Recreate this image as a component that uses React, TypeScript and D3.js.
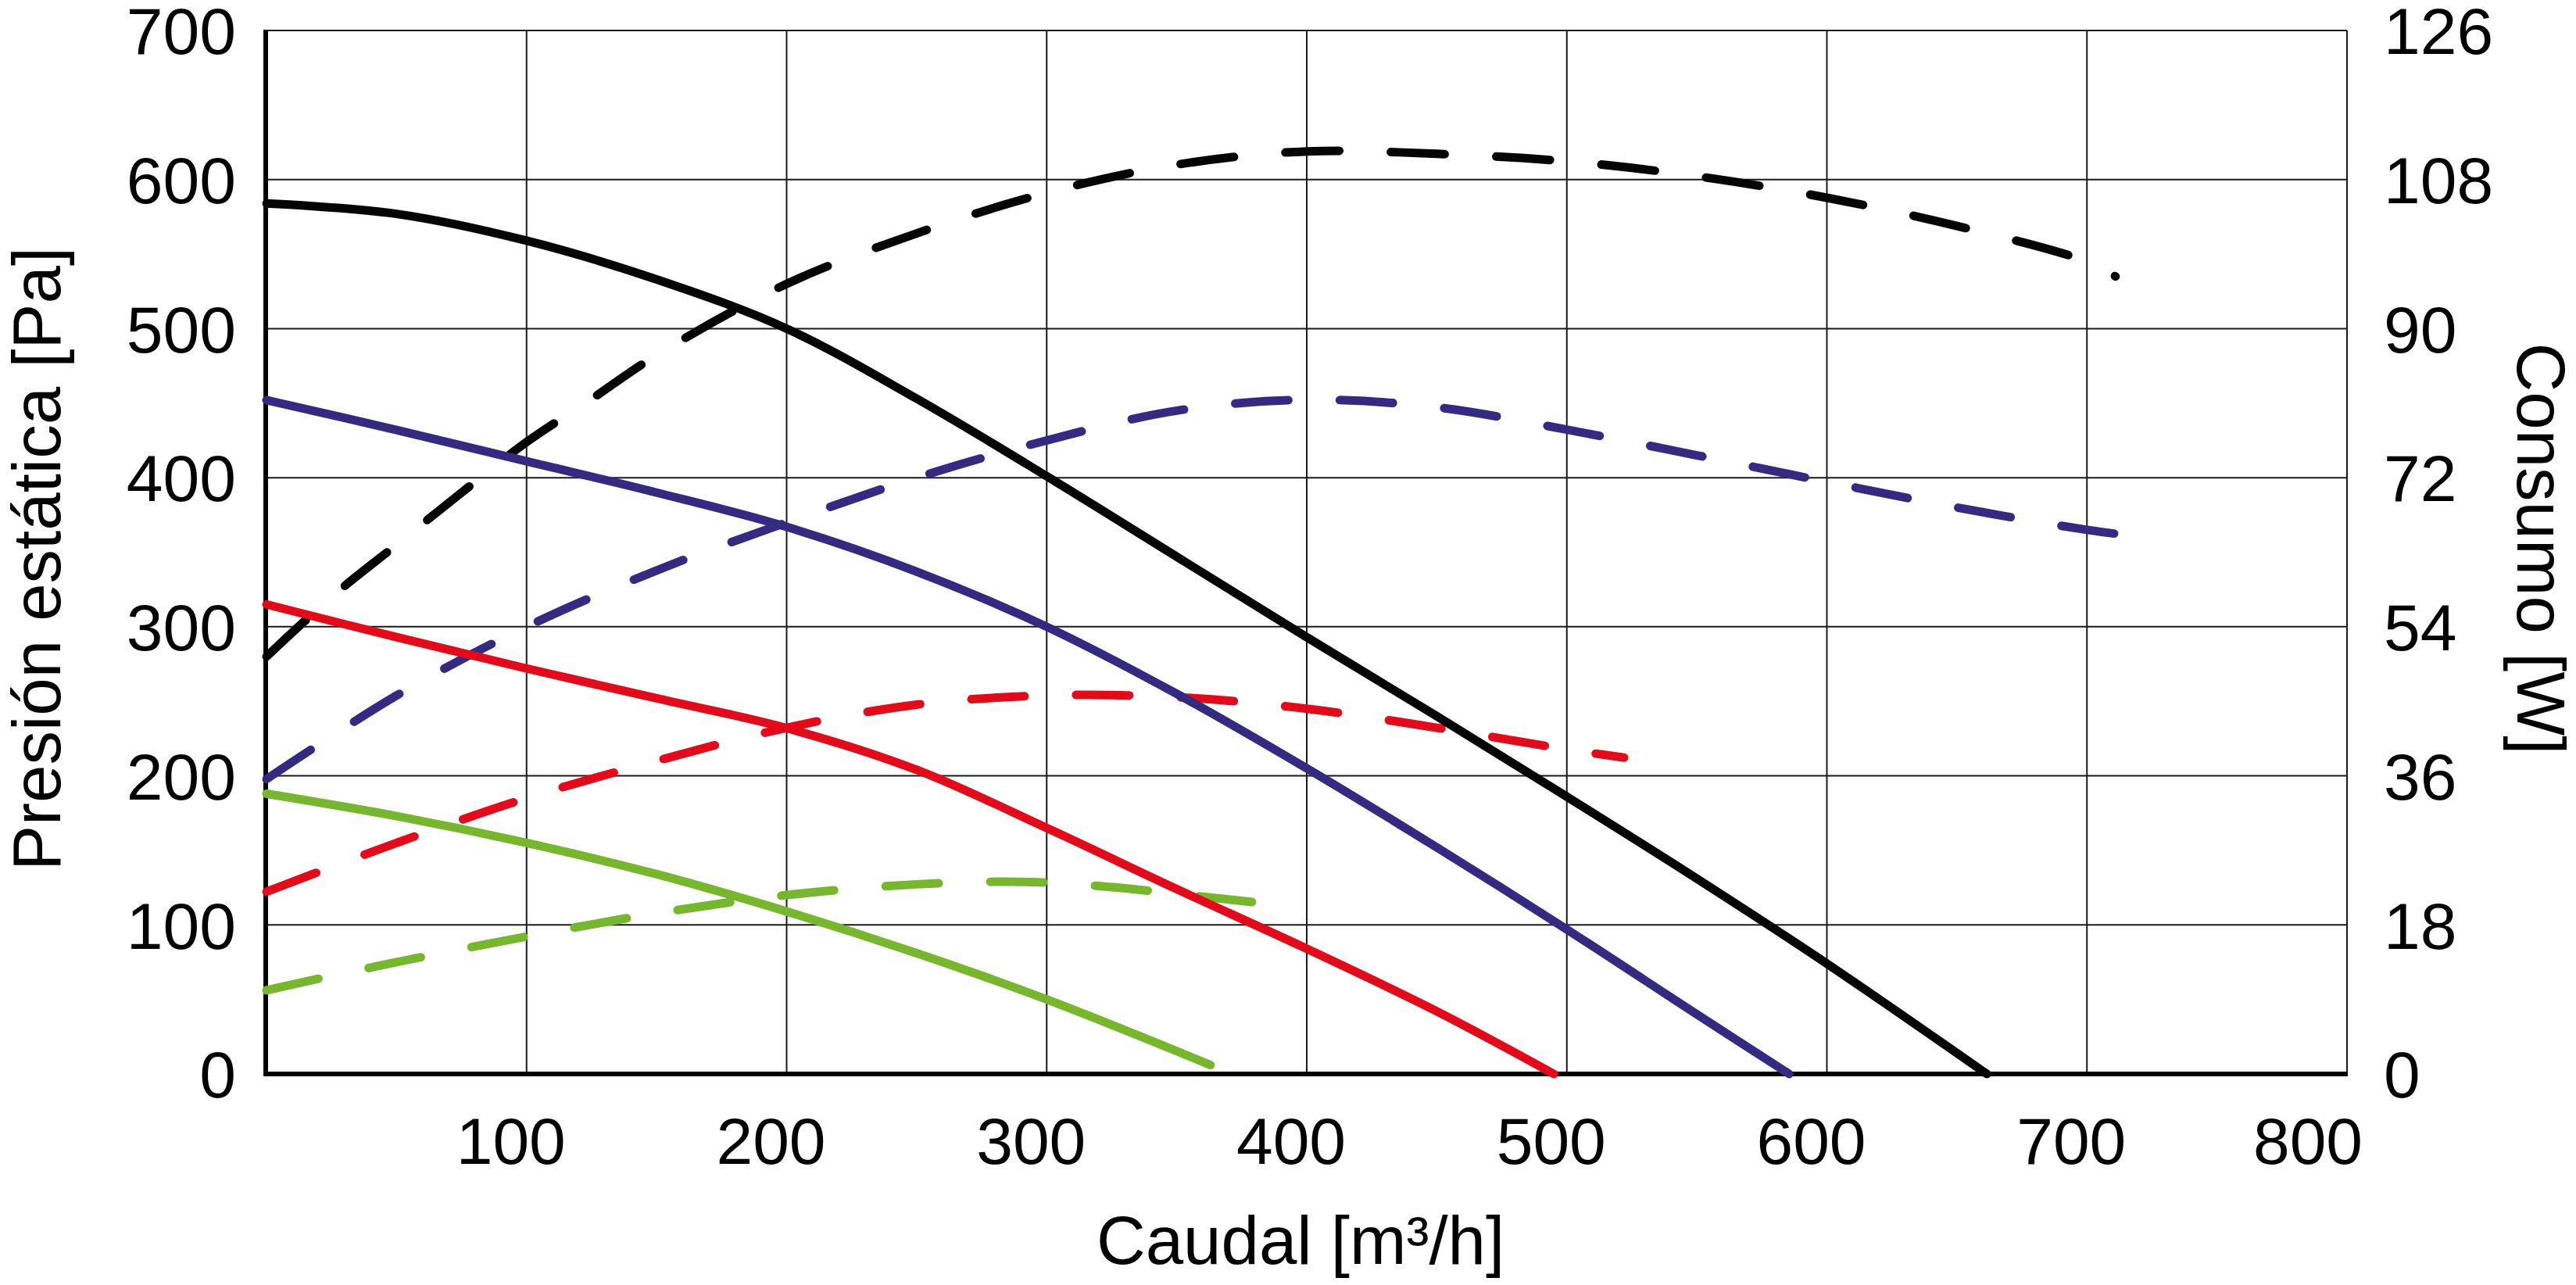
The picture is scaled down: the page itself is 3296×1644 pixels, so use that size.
import React, { useLayoutEffect, useRef } from "react";
import * as d3 from "d3";

// ---- axis ticks ----
const flowTicks = [100, 200, 300, 400, 500, 600, 700, 800];
const pressureTicks = [0, 100, 200, 300, 400, 500, 600, 700];
const powerTicks = [0, 18, 36, 54, 72, 90, 108, 126];

// ---- static pressure curves (Pa) ----
const blackFlow = [0, 50, 100, 150, 200, 250, 300, 350, 400, 450, 500, 550, 600, 661.5];
const blackPressure = [584, 577, 559, 533, 500, 453, 401, 347, 293, 240, 186, 131, 74, 0];

const blueFlow = [0, 50, 100, 150, 200, 250, 300, 350, 400, 450, 500, 550, 585.5];
const bluePressure = [452, 432, 411, 390, 367, 337, 300, 255, 205, 152, 97, 40, 0];

const redFlow = [0, 50, 100, 150, 200, 250, 300, 350, 400, 450, 495];
const redPressure = [315, 293, 272, 252, 232, 204, 165, 124, 84, 42, 0];

const greenFlow = [0, 50, 100, 150, 200, 250, 300, 363];
const greenPressure = [188, 173, 155, 134, 109, 81, 50, 6];

// ---- power consumption curves (W) ----
const blackPowerFlow = [0, 25, 50, 75, 100, 125, 150, 200, 250, 300, 350, 400, 450, 500, 550, 600, 650, 700, 711];
const blackPower = [50.4, 57.6, 63.9, 70.2, 76.3, 81.5, 86.8, 95.4, 101.5, 106.4, 109.8, 111.4, 111.1, 110.2, 108.4, 105.8, 102.4, 98.1, 96.3];

const bluePowerFlow = [0, 50, 100, 150, 200, 250, 300, 350, 400, 450, 500, 550, 600, 650, 700, 717];
const bluePower = [35.6, 45.7, 54.0, 60.8, 66.6, 72.0, 76.5, 80.1, 81.4, 80.5, 77.8, 74.7, 71.5, 68.4, 65.7, 65.0];

const redPowerFlow = [0, 50, 100, 150, 200, 250, 300, 350, 400, 450, 500, 522];
const redPower = [22.0, 27.9, 33.3, 37.8, 41.8, 44.6, 45.7, 45.5, 44.1, 41.8, 39.2, 38.2];

const greenPowerFlow = [0, 20, 50, 100, 150, 200, 250, 290, 320, 340, 360, 381];
const greenPower = [10.1, 11.5, 13.5, 16.6, 19.4, 21.6, 22.9, 23.2, 22.7, 22.1, 21.4, 20.7];

const BLACK = "#050505";
const BLUE = "#352a82";
const RED = "#e30b1a";
const GREEN = "#76b72e";

const zip = (a: number[], b: number[]) => a.map((v, i) => [v, b[i]] as [number, number]);

export default function App() {
  const W = 3296;
  const H = 1644;
  const left = 341, right = 3003, top = 39, bottom = 1374;
  const blackDashRef = useRef<SVGPathElement | null>(null);

  const x = d3.scaleLinear().domain([0, 800]).range([left, right]);
  const yP = d3.scaleLinear().domain([0, 700]).range([bottom, top]);
  const yW = d3.scaleLinear().domain([0, 126]).range([bottom, top]);

  const lineP = d3
    .line<[number, number]>()
    .x((d) => x(d[0]))
    .y((d) => yP(d[1]))
    .curve(d3.curveCatmullRom.alpha(0.5));
  const lineW = d3
    .line<[number, number]>()
    .x((d) => x(d[0]))
    .y((d) => yW(d[1]))
    .curve(d3.curveCatmullRom.alpha(0.5));

  // black consumption line ends with a dot: fit the dash period to the path length
  useLayoutEffect(() => {
    const p = blackDashRef.current;
    if (!p) return;
    const L = p.getTotalLength();
    const n = Math.max(1, Math.round((L - 1) / 134));
    const P = (L - 1) / n;
    const dash = P * 0.51;
    p.setAttribute("stroke-dasharray", `${dash} ${P - dash}`);
  }, []);

  const pressureSeries = [
    { c: GREEN, d: zip(greenFlow, greenPressure) },
    { c: RED, d: zip(redFlow, redPressure) },
    { c: BLUE, d: zip(blueFlow, bluePressure) },
    { c: BLACK, d: zip(blackFlow, blackPressure) },
  ];
  const powerSeries = [
    { c: GREEN, d: zip(greenPowerFlow, greenPower) },
    { c: RED, d: zip(redPowerFlow, redPower) },
    { c: BLUE, d: zip(bluePowerFlow, bluePower) },
    { c: BLACK, d: zip(blackPowerFlow, blackPower) },
  ];

  const font = "'Liberation Sans', Arial, Helvetica, sans-serif";
  const gridColor = "#1a1a1a";

  return (
    <svg
      width={W}
      height={H}
      viewBox={`0 0 ${W} ${H}`}
      style={{ position: "absolute", left: 0, top: 0, background: "#fff" }}
      fontFamily={font}
    >
      <rect x={0} y={0} width={W} height={H} fill="#fff" />
      {/* grid */}
      {flowTicks.map((t) => (
        <line key={"gx" + t} x1={x(t)} x2={x(t)} y1={yP(700)} y2={yP(0)} stroke={gridColor} strokeWidth={2} />
      ))}
      {pressureTicks.filter((t) => t > 0).map((t) => (
        <line key={"gy" + t} x1={x(0)} x2={x(800)} y1={yP(t)} y2={yP(t)} stroke={gridColor} strokeWidth={2} />
      ))}
      {/* main axes */}
      <line x1={x(0) - 1} x2={x(0) - 1} y1={yP(700) - 1} y2={yP(0) + 3} stroke="#000" strokeWidth={6} />
      <line x1={x(0) - 4} x2={x(800) + 1} y1={yP(0)} y2={yP(0)} stroke="#000" strokeWidth={6} />

      {/* power curves (dashed) */}
      {powerSeries.map((s, i) => (
        <path
          key={"w" + i}
          ref={s.c === BLACK ? blackDashRef : undefined}
          d={lineW(s.d) || ""}
          fill="none"
          stroke={s.c}
          strokeWidth={11}
          strokeLinecap="round"
          strokeDasharray="68 66"
        />
      ))}
      {/* pressure curves (solid) */}
      {pressureSeries.map((s, i) => (
        <path
          key={"p" + i}
          d={lineP(s.d) || ""}
          fill="none"
          stroke={s.c}
          strokeWidth={11}
          strokeLinecap="round"
        />
      ))}

      {/* left tick labels */}
      {pressureTicks.map((t) => (
        <text key={"ly" + t} x={302} y={yP(t)} dy="0.36em" textAnchor="end" fontSize={84} fill="#000">
          {t}
        </text>
      ))}
      {/* right tick labels */}
      {powerTicks.map((t) => (
        <text key={"ry" + t} x={3050} y={yW(t)} dy="0.36em" textAnchor="start" fontSize={84} fill="#000">
          {t}
        </text>
      ))}
      {/* bottom tick labels */}
      {flowTicks.map((t, i) => (
        <text
          key={"bx" + t}
          x={x(t)}
          dx={i === flowTicks.length - 1 ? -50 : -20}
          y={1489}
          textAnchor="middle"
          fontSize={84}
          fill="#000"
        >
          {t}
        </text>
      ))}

      {/* axis titles */}
      <text x={1664} y={1617} textAnchor="middle" fontSize={87} fill="#000">
        Caudal [m³/h]
      </text>
      <text transform="translate(77,715) rotate(-90)" textAnchor="middle" fontSize={87} fill="#000">
        Presión estática [Pa]
      </text>
      <text transform="translate(3221,702) rotate(90)" textAnchor="middle" fontSize={87} fill="#000">
        Consumo [W]
      </text>
    </svg>
  );
}
